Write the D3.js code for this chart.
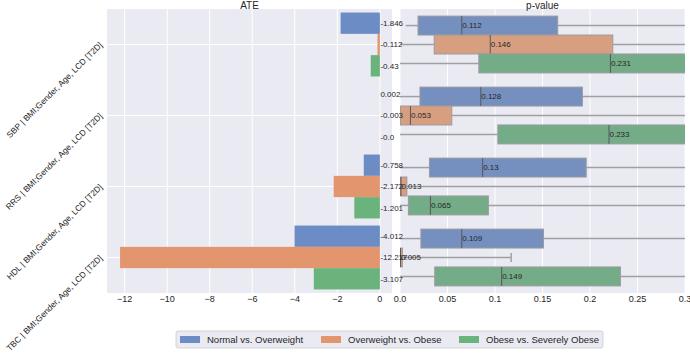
<!DOCTYPE html>
<html>
<head>
<meta charset="utf-8">
<script src="https://cdn.jsdelivr.net/npm/d3@7"></script>
<style>
  body { margin: 0; background: #fff; }
  text { font-family: "Liberation Sans", Arial, sans-serif; fill: #262626; }
</style>
</head>
<body>
<svg id="chart" width="690" height="356"></svg>
<script>
// data
let categories = [
  'SBP | BMI;Gender, Age, LCD [T2D]',
  'RRS | BMI;Gender, Age, LCD [T2D]',
  'HDL | BMI;Gender, Age, LCD [T2D]',
  'TBC | BMI;Gender, Age, LCD [T2D]'
];
let series = ['Normal vs. Overweight', 'Overweight vs. Obese', 'Obese vs. Severely Obese'];

let ate = [
  [-1.846, -0.112, -0.43],
  [0.002, -0.003, -0.0],
  [-0.758, -2.172, -1.201],
  [-4.012, -12.217, -3.107]
];
let ateLabels = [
  ['-1.846', '-0.112', '-0.43'],
  ['0.002', '-0.003', '-0.0'],
  ['-0.758', '-2.172', '-1.201'],
  ['-4.012', '-12.217', '-3.107']
];

// p-value boxes: [whisker low, q1, median, q3, whisker high]
let pBoxes = [
  [[0.006, 0.019, 0.065, 0.166, 0.5], [0, 0.036, 0.095, 0.224, 0.5], [0, 0.083, 0.2215, 0.45, 0.6]],
  [[0, 0.021, 0.085, 0.192, 0.5], [0, 0.0005, 0.011, 0.0545, 0.4], [0, 0.103, 0.22, 0.45, 0.6]],
  [[0, 0.031, 0.087, 0.196, 0.5], [0, 0.0, 0.001, 0.0072, 0.35], [0, 0.0088, 0.032, 0.093, 0.4]],
  [[0, 0.022, 0.065, 0.151, 0.4], [0, 0.0, 0.0005, 0.0025, 0.117], [0, 0.0366, 0.107, 0.232, 0.5]]
];
let pMeans = [
  ['0.112', '0.146', '0.231'],
  ['0.128', '0.053', '0.233'],
  ['0.13', '0.013', '0.065'],
  ['0.109', '0.005', '0.149']
];

let ateTicks = [-12, -10, -8, -6, -4, -2, 0];
let pTicks = [0.0, 0.05, 0.1, 0.15, 0.2, 0.25, 0.3];
let pTickLabels = ['0.0', '0.05', '0.1', '0.15', '0.2', '0.25', '0.3'];

let barColors = ['#6b8cc5', '#e3956e', '#6ab37c'];
let boxColors = ['#7590be', '#d79f80', '#73ac87'];

let svg = d3.select('#chart');

let yTop = 9, yBottom = 293;
let y = d3.scaleBand().domain(categories).range([yTop, yBottom]).padding(0);

// ---- left panel: ATE ----
let xL = d3.scaleLinear().domain([-12.83, 0.57]).range([107, 392]);
let yBar = d3.scaleBand().domain(d3.range(3)).range([0, y.bandwidth() * 0.9]);
let barOff = y.bandwidth() * 0.05;

let left = svg.append('g');
left.append('rect')
  .attr('x', xL.range()[0]).attr('y', yTop)
  .attr('width', xL.range()[1] - xL.range()[0]).attr('height', yBottom - yTop)
  .attr('fill', '#eaeaf2');

left.selectAll('.vgrid').data(ateTicks).enter().append('line')
  .attr('x1', (d) => xL(d)).attr('x2', (d) => xL(d))
  .attr('y1', yTop).attr('y2', yBottom)
  .attr('stroke', '#fff').attr('stroke-width', 1);
left.selectAll('.hgrid').data(categories).enter().append('line')
  .attr('x1', xL.range()[0]).attr('x2', xL.range()[1])
  .attr('y1', (d) => y(d) + y.bandwidth() / 2).attr('y2', (d) => y(d) + y.bandwidth() / 2)
  .attr('stroke', '#fff').attr('stroke-width', 1);

categories.forEach((cat, i) => {
  let g = left.append('g').attr('transform', 'translate(0,' + (y(cat) + barOff) + ')');
  g.selectAll('rect').data(ate[i]).enter().append('rect')
    .attr('x', (d) => xL(Math.min(0, d)))
    .attr('width', (d) => Math.abs(xL(d) - xL(0)))
    .attr('y', (d, j) => yBar(j))
    .attr('height', yBar.bandwidth())
    .attr('fill', (d, j) => barColors[j]);
});

left.selectAll('.xtick').data(ateTicks).enter().append('text')
  .attr('x', (d) => xL(d)).attr('y', 302)
  .attr('text-anchor', 'middle').attr('font-size', 9)
  .text((d) => (d < 0 ? '\u2212' + Math.abs(d) : d));

left.selectAll('.ylab').data(categories).enter().append('text')
  .attr('transform', (d) => 'translate(103,' + (y(d) + y.bandwidth() / 2 + 1) + ') rotate(-45)')
  .attr('text-anchor', 'end').attr('font-size', 8.4)
  .text((d) => d);

svg.append('text').attr('x', (xL.range()[0] + xL.range()[1]) / 2).attr('y', 8.5)
  .attr('text-anchor', 'middle').attr('font-size', 10).text('ATE');

// ---- right panel: p-value ----
let xR = d3.scaleLinear().domain([0, 0.3]).range([400, 685]);
let yBox = d3.scaleBand().domain(d3.range(3)).range([0, y.bandwidth() * 0.8]);
let boxOff = y.bandwidth() * 0.1;

svg.append('clipPath').attr('id', 'clipR').append('rect')
  .attr('x', xR.range()[0]).attr('y', yTop)
  .attr('width', xR.range()[1] - xR.range()[0]).attr('height', yBottom - yTop);

let right = svg.append('g');
right.append('rect')
  .attr('x', xR.range()[0]).attr('y', yTop)
  .attr('width', xR.range()[1] - xR.range()[0]).attr('height', yBottom - yTop)
  .attr('fill', '#eaeaf2');
right.selectAll('.vgrid').data(pTicks).enter().append('line')
  .attr('x1', (d) => xR(d)).attr('x2', (d) => xR(d))
  .attr('y1', yTop).attr('y2', yBottom)
  .attr('stroke', '#fff').attr('stroke-width', 1);

let plot = right.append('g').attr('clip-path', 'url(#clipR)');
categories.forEach((cat, i) => {
  let g = plot.append('g').attr('transform', 'translate(0,' + (y(cat) + boxOff) + ')');
  pBoxes[i].forEach((b, j) => {
    let cy = yBox(j) + yBox.bandwidth() / 2;
    // whiskers
    g.append('line')
      .attr('x1', xR(b[0])).attr('x2', xR(b[1]))
      .attr('y1', cy).attr('y2', cy)
      .attr('stroke', '#a0a0a4').attr('stroke-width', 1.5);
    g.append('line')
      .attr('x1', xR(b[3])).attr('x2', xR(b[4]))
      .attr('y1', cy).attr('y2', cy)
      .attr('stroke', '#a0a0a4').attr('stroke-width', 1.5);
    if (b[4] < 0.3) {
      g.append('line')
        .attr('x1', xR(b[4])).attr('x2', xR(b[4]))
        .attr('y1', cy - 4.5).attr('y2', cy + 4.5)
        .attr('stroke', '#a0a0a4').attr('stroke-width', 1.5);
    }
    g.append('rect')
      .attr('x', xR(b[1])).attr('y', yBox(j))
      .attr('width', Math.max(1, xR(b[3]) - xR(b[1])))
      .attr('height', yBox.bandwidth())
      .attr('fill', boxColors[j])
      .attr('stroke', '#9a9a9e').attr('stroke-width', 1);
    g.append('line')
      .attr('x1', xR(b[2])).attr('x2', xR(b[2]))
      .attr('y1', yBox(j)).attr('y2', yBox(j) + yBox.bandwidth())
      .attr('stroke', '#55585e').attr('stroke-width', 1);
    g.append('text')
      .attr('x', xR(b[2]) + 0.5).attr('y', cy)
      .attr('dy', '0.35em').attr('font-size', 8).attr('fill', '#333')
      .text(pMeans[i][j]);
  });
});

right.selectAll('.xtick').data(pTicks).enter().append('text')
  .attr('x', (d) => xR(d)).attr('y', 302)
  .attr('text-anchor', 'middle').attr('font-size', 9)
  .text((d, i) => pTickLabels[i]);

svg.append('text').attr('x', (xR.range()[0] + xR.range()[1]) / 2).attr('y', 8.5)
  .attr('text-anchor', 'middle').attr('font-size', 10).text('p-value');

// ATE value labels drawn last, they spill over into the p-value panel
categories.forEach((cat, i) => {
  svg.append('g').attr('transform', 'translate(0,' + (y(cat) + barOff) + ')')
    .selectAll('text').data(ateLabels[i]).enter().append('text')
    .attr('x', xL(0) + 0.5)
    .attr('y', (d, j) => yBar(j) + yBar.bandwidth() / 2)
    .attr('dy', '0.35em')
    .attr('font-size', 8).attr('fill', '#333')
    .text((d) => d);
});

// ---- legend ----
let legend = svg.append('g');
legend.append('rect')
  .attr('x', 176).attr('y', 331).attr('width', 427).attr('height', 17)
  .attr('rx', 2).attr('fill', '#eaeaf2').attr('stroke', '#cccccc').attr('stroke-width', 0.8);
let legendX = [180, 321, 459];
series.forEach((s, i) => {
  legend.append('rect')
    .attr('x', legendX[i]).attr('y', 336).attr('width', 20).attr('height', 7)
    .attr('fill', barColors[i]);
  legend.append('text')
    .attr('x', legendX[i] + 27).attr('y', 339.5).attr('dy', '0.35em')
    .attr('font-size', 9.5).text(s);
});
</script>
</body>
</html>
